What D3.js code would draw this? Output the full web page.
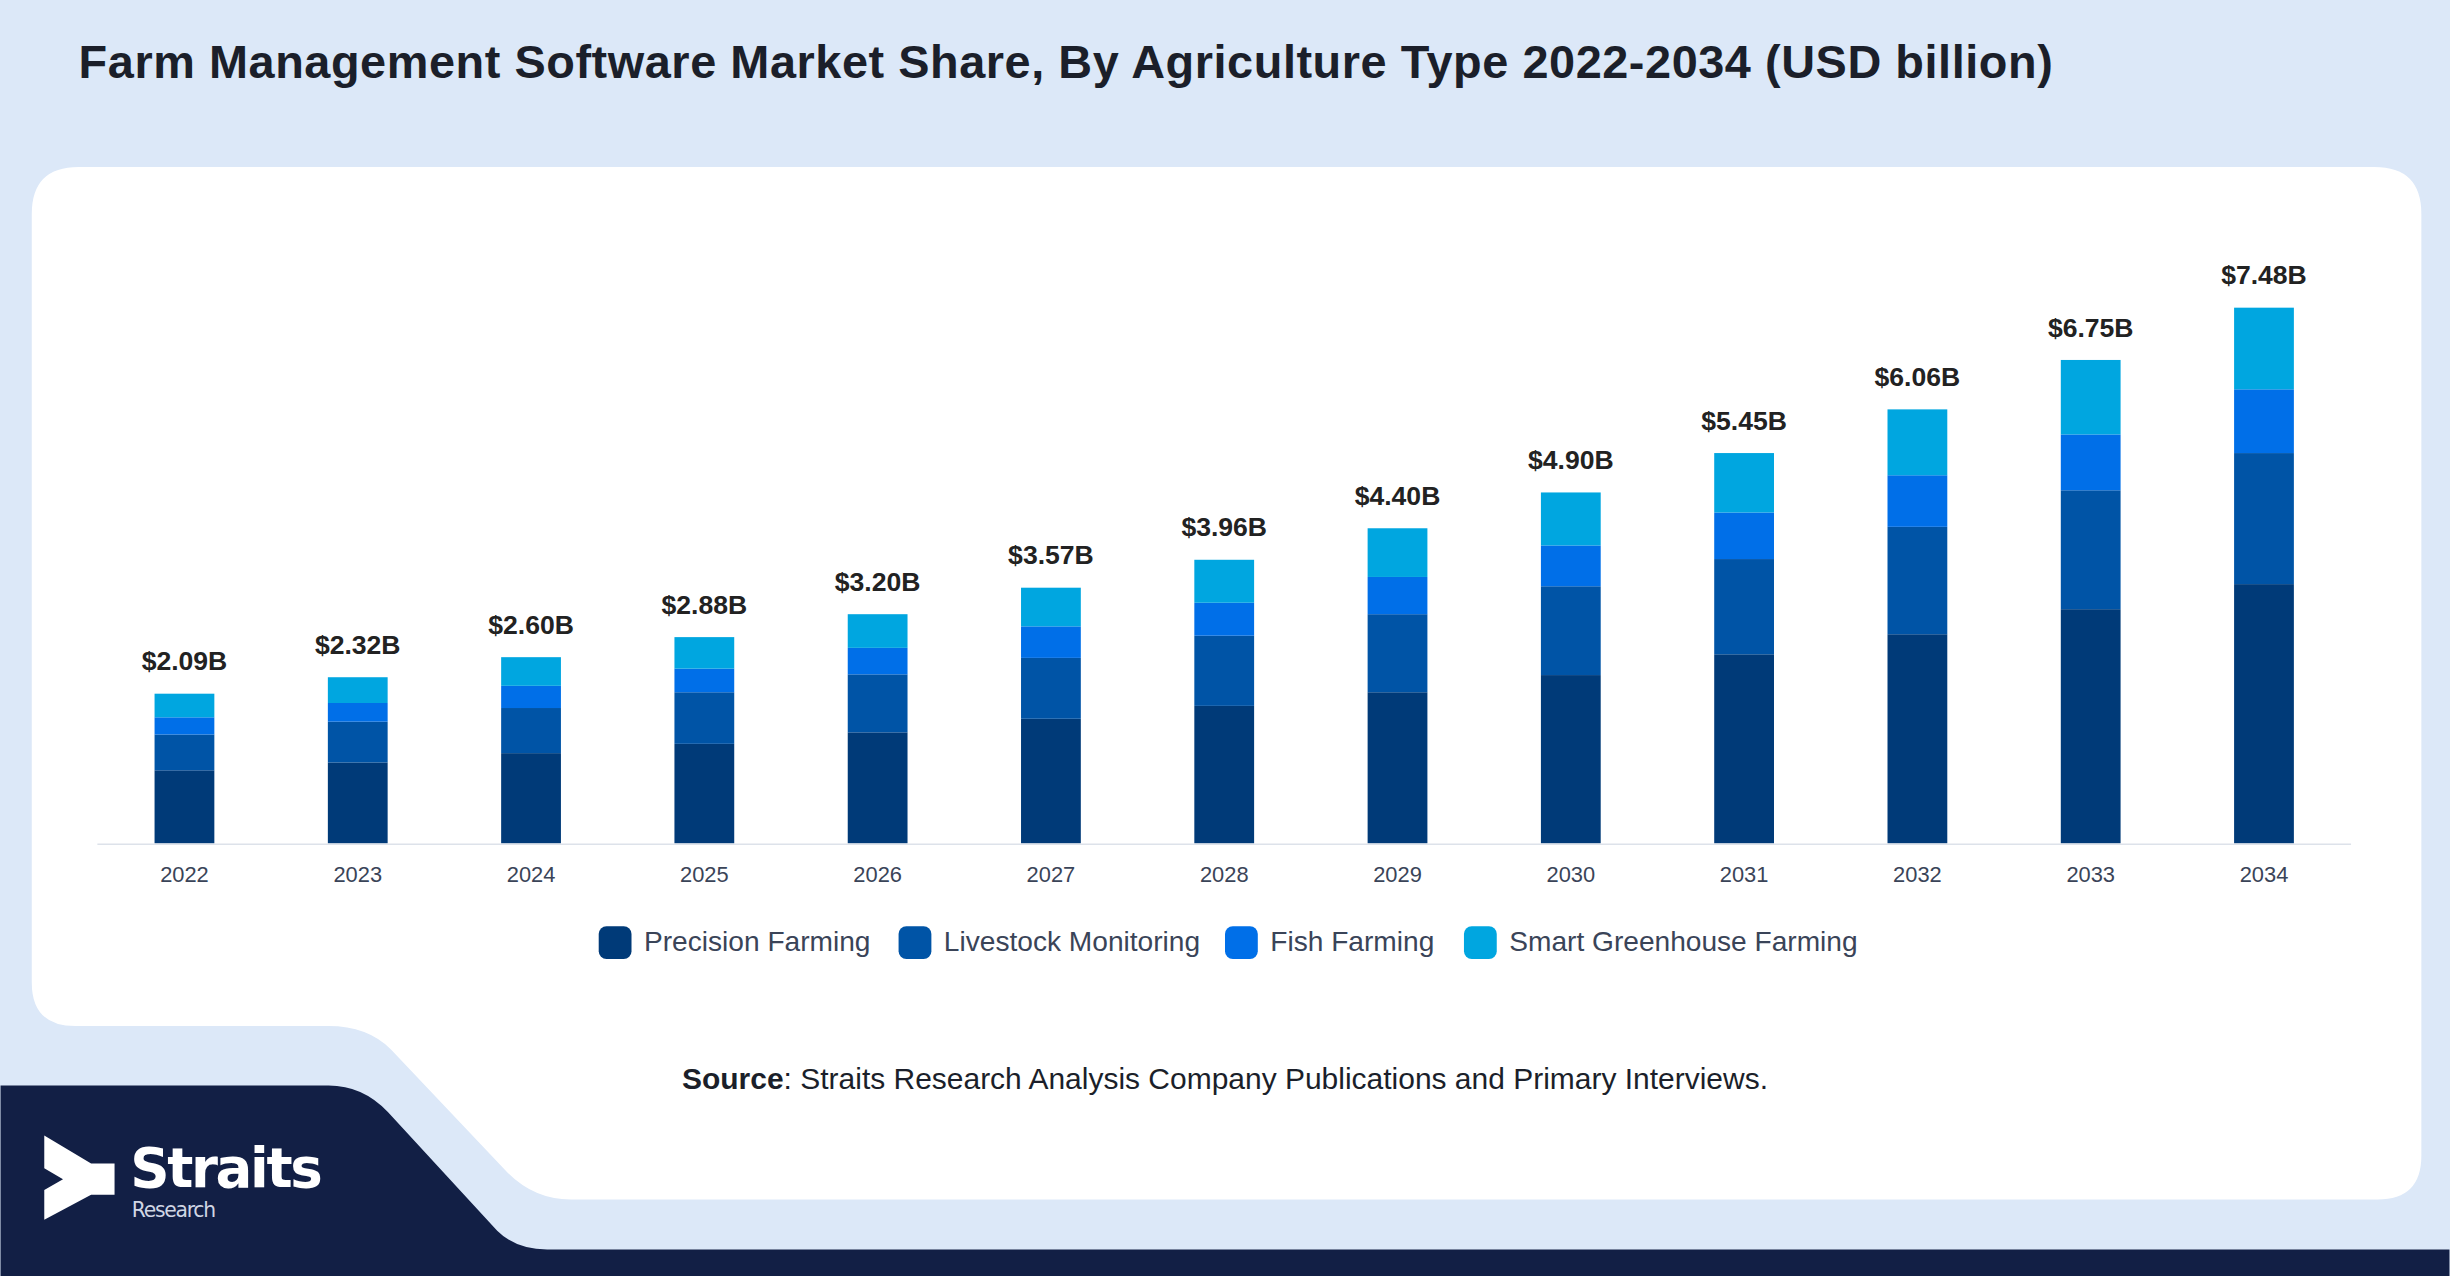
<!DOCTYPE html>
<html><head><meta charset="utf-8">
<script src="https://cdn.jsdelivr.net/npm/d3@7"></script>
<style>html,body{margin:0;padding:0;background:#dce8f8;overflow:hidden}</style>
</head><body>
<svg id="c" width="2450" height="1276" viewBox="0 0 1568 817"></svg>
<script>
const years = ["2022","2023","2024","2025","2026","2027","2028","2029","2030","2031","2032","2033","2034"];
const precision = [1.02,1.13,1.26,1.39,1.55,1.74,1.92,2.11,2.35,2.64,2.92,3.27,3.62];
const livestock = [0.50,0.57,0.63,0.72,0.81,0.85,0.98,1.09,1.24,1.33,1.50,1.66,1.83];
const fish = [0.24,0.26,0.31,0.33,0.37,0.44,0.46,0.52,0.57,0.65,0.72,0.78,0.89];
const greenhouse = [0.33,0.36,0.40,0.44,0.47,0.54,0.60,0.68,0.74,0.83,0.92,1.04,1.14];
const totals = ["$2.09B","$2.32B","$2.60B","$2.88B","$3.20B","$3.57B","$3.96B","$4.40B","$4.90B","$5.45B","$6.06B","$6.75B","$7.48B"];
const seriesNames = ["Precision Farming","Livestock Monitoring","Fish Farming","Smart Greenhouse Farming"];
const colors = ["#003a78","#0054a6","#006fe8","#00a6e0"];

const svg = d3.select("#c");
const F = "Liberation Sans, Arial, sans-serif";
svg.append("rect").attr("width",1568).attr("height",817).attr("fill","#dce8f8");
svg.append("path").attr("fill","#fff")
 .attr("d","M50,107 H1520 Q1550,107 1550,137 V740 Q1550,768 1522,768 H365 Q340,768 322,748 L250,672 Q235,657 210,657 H48 Q20,657 20,629 V137 Q20,107 50,107 Z");
svg.append("path").attr("fill","#121f45")
 .attr("d","M0,695 H210 Q232,695 248,712 L318,788 Q330,800 350,800 H1568 V817 H0 Z");
const lg = svg.append("g");
lg.append("path").attr("fill","#fff").attr("d","M28,727 L58,745 L73,745 L73,765 L58,765 L28,781 L28,762 L40,755 L28,748 Z");
lg.append("text").attr("x",83).attr("y",760).attr("fill","#fff").attr("font-family","DejaVu Sans, sans-serif").attr("font-weight","bold").attr("font-size",35).attr("letter-spacing",-1.5).text("Straits");
lg.append("text").attr("x",84).attr("y",779).attr("fill","#d0d6e4").attr("font-family","DejaVu Sans, sans-serif").attr("font-size",13).attr("letter-spacing",-0.8).text("Research");

svg.append("text").attr("x",50).attr("y",50).attr("font-family",F).attr("font-weight","bold").attr("font-size",30).attr("textLength",1264).attr("fill","#1b1f2a").text("Farm Management Software Market Share, By Agriculture Type 2022-2034 (USD billion)");

const x = d3.scaleBand().domain(years).range([62,1505]).paddingInner(0.655).paddingOuter(0.33);
const y = d3.scaleLinear().domain([0,7.48]).range([540,197]);
const data = years.map((yr,i)=>({year:yr,p:precision[i],l:livestock[i],f:fish[i],g:greenhouse[i]}));
const stack = d3.stack().keys(["p","l","f","g"])(data);
stack.forEach((s,k)=>{
  svg.append("g").selectAll("rect").data(s).join("rect")
   .attr("x",d=>x(d.data.year)).attr("width",x.bandwidth())
   .attr("y",d=>y(d[1])).attr("height",d=>y(d[0])-y(d[1]))
   .attr("fill",colors[k]);
});
svg.append("g").selectAll("text").data(data).join("text")
 .attr("x",d=>x(d.year)+x.bandwidth()/2).attr("y",(d,i)=>y(d.p+d.l+d.f+d.g)-15)
 .attr("text-anchor","middle").attr("font-family",F).attr("font-weight","bold").attr("font-size",17).attr("fill","#222")
 .text((d,i)=>totals[i]);
const ax = svg.append("g").attr("transform","translate(0,540)").call(d3.axisBottom(x).tickSize(0).tickPadding(15));
ax.select(".domain").attr("stroke","#dde2ea").attr("d","M62,0.5H1505");
ax.selectAll("text").attr("font-family",F).attr("font-size",14).attr("fill","#3a4458");

const lgd = svg.append("g");
let lx = 383;
const widths=[192,209,153,246];
seriesNames.forEach((n,i)=>{
  lgd.append("rect").attr("x",lx).attr("y",593).attr("width",21).attr("height",21).attr("rx",5).attr("fill",colors[i]);
  lgd.append("text").attr("x",lx+29).attr("y",609).attr("font-family",F).attr("font-size",18).attr("fill","#3a4458").text(n);
  lx += widths[i];
});
const st = svg.append("text").attr("x",784).attr("y",697).attr("text-anchor","middle").attr("font-family",F).attr("font-size",19.2).attr("fill","#1b1f2a");
st.append("tspan").attr("font-weight","bold").text("Source");
st.append("tspan").text(": Straits Research Analysis Company Publications and Primary Interviews.");
</script>
</body></html>
